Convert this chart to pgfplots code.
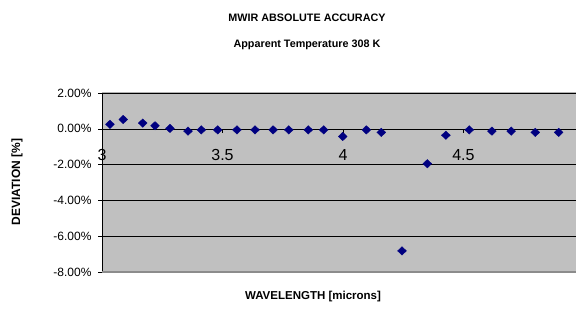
\documentclass[border=0pt]{standalone}
\usepackage{pgfplots}
\pgfplotsset{compat=1.18}
\usepackage{fontspec}
\setmainfont{Liberation Sans}
\definecolor{plotbg}{RGB}{192,192,192}
\definecolor{navy}{RGB}{0,0,128}
\begin{document}
\begin{tikzpicture}[x=1pt,y=1pt]
\useasboundingbox (0,0) rectangle (576,314);
\node[font=\bfseries\fontsize{10.8}{13}\selectfont] at (307,296) {MWIR ABSOLUTE ACCURACY};
\node[font=\bfseries\fontsize{10.8}{13}\selectfont] at (307,269) {Apparent Temperature 308 K};
\node[font=\bfseries\fontsize{12}{14}\selectfont, rotate=90] at (17,132) {DEVIATION [\%]};
\node[font=\bfseries\fontsize{11.5}{13}\selectfont] at (313,17) {WAVELENGTH [microns]};
\begin{axis}[
  at={(102pt,42pt)}, anchor=south west,
  scale only axis, width=474pt, height=179pt,
  xmin=3, xmax=4.967, ymin=-8, ymax=2,
  axis x line=middle, axis y line=left,
  axis line style={-, black},
  hide obscured x ticks=false,
  axis background/.style={fill=plotbg},
  xtick={3,3.5,4,4.5},
  xticklabels={3,3.5,4,4.5},
  ytick={-8,-6,-4,-2,0,2},
  yticklabel={\pgfmathprintnumber[fixed,fixed zerofill,precision=2]{\tick}\%},
  /pgf/number format/assume math mode=true,
  tick align=outside,
  major tick length=4pt,
  tick style={black},
  ymajorgrids, major grid style={black, line width=0.5pt},
  x tick label style={font=\fontsize{16}{18}\selectfont, yshift=-13pt},
  y tick label style={font=\fontsize{12}{14}\selectfont, xshift=-3pt},
  clip=false,
]
\draw[gray!60, line width=1pt] (rel axis cs:0,1) -- (rel axis cs:1,1);
\draw[gray!90, line width=1.2pt] (rel axis cs:0,0) -- (rel axis cs:1,0);
\addplot[only marks, mark=diamond*, mark size=4.2pt, mark options={xscale=1.4}, color=navy] coordinates {
(3.033,0.25) (3.088,0.52) (3.169,0.32) (3.220,0.17) (3.282,0.02)
(3.357,-0.13) (3.412,-0.06) (3.480,-0.06) (3.560,-0.06) (3.635,-0.06)
(3.710,-0.06) (3.775,-0.06) (3.856,-0.06) (3.920,-0.06) (3.999,-0.43)
(4.097,-0.06) (4.159,-0.20) (4.245,-6.82) (4.350,-1.95) (4.427,-0.36)
(4.524,-0.06) (4.618,-0.13) (4.698,-0.13) (4.798,-0.20) (4.895,-0.20)
};
\end{axis}
\end{tikzpicture}
\end{document}
